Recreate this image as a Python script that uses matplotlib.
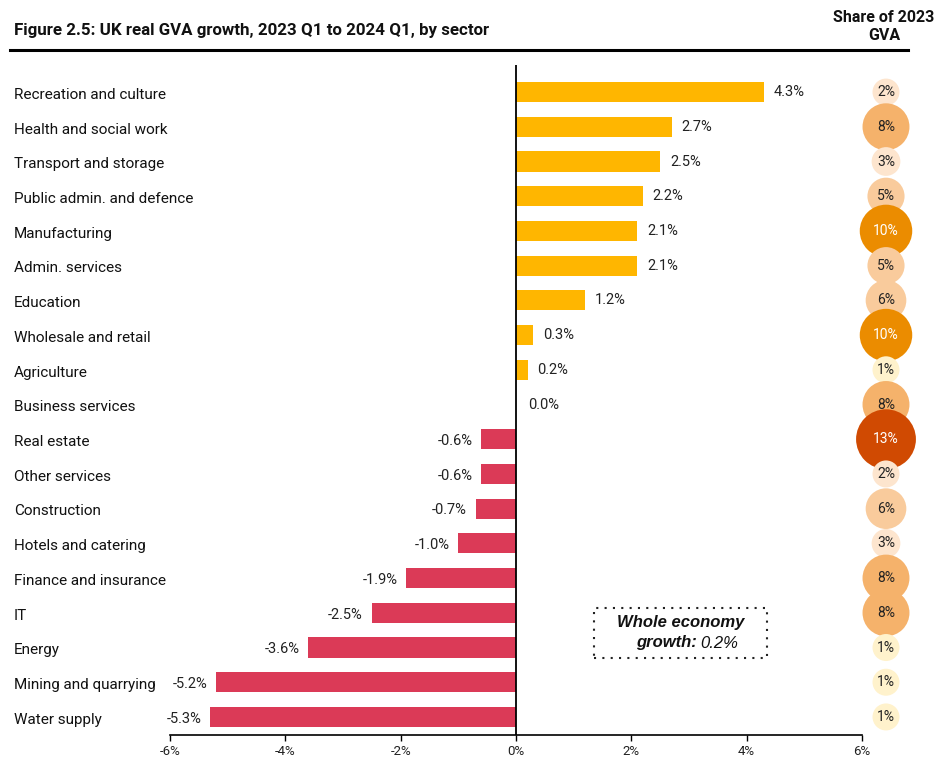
import matplotlib
matplotlib.use("Agg")
import matplotlib.pyplot as plt
from matplotlib.transforms import blended_transform_factory
from matplotlib.patches import FancyBboxPatch

plt.rcParams['font.family'] = ['Roboto', 'DejaVu Sans']

sectors = [
    "Recreation and culture", "Health and social work", "Transport and storage",
    "Public admin. and defence", "Manufacturing", "Admin. services", "Education",
    "Wholesale and retail", "Agriculture", "Business services", "Real estate",
    "Other services", "Construction", "Hotels and catering", "Finance and insurance",
    "IT", "Energy", "Mining and quarrying", "Water supply",
]
growth = [4.3, 2.7, 2.5, 2.2, 2.1, 2.1, 1.2, 0.3, 0.2, 0.0,
          -0.6, -0.6, -0.7, -1.0, -1.9, -2.5, -3.6, -5.2, -5.3]
share = [2, 8, 3, 5, 10, 5, 6, 10, 1, 8, 13, 2, 6, 3, 8, 8, 1, 1, 1]
xticks = [-6, -4, -2, 0, 2, 4, 6]
whole_economy = 0.2

POS_COLOR = "#FFB600"
NEG_COLOR = "#DB3A57"


def share_color(s):
    if s >= 13:
        return "#D04A02"
    if s >= 10:
        return "#EB8C00"
    if s >= 8:
        return "#F5B26B"
    if s >= 5:
        return "#F9CB9C"
    if s >= 2:
        return "#FDE5CE"
    return "#FFF2CC"


def bubble_radius_px(s):
    # area proportional to share, with a minimum size so labels fit
    return max(13.5, 8.3 * s ** 0.5)


fig = plt.figure(figsize=(9.39, 7.57), dpi=100)
W, H = 939, 757
ax = fig.add_axes([170 / W, 1 - 735 / H, (862 - 170) / W, (735 - 65) / H])
ppu = (862 - 170) / 12.0  # pixels per percentage point

y = list(range(len(sectors)))
colors = [POS_COLOR if g >= 0 else NEG_COLOR for g in growth]
ax.barh(y, growth, height=0.58, color=colors, zorder=2)
ax.set_xlim(-6, 6)
ax.set_ylim(18.52, -0.78)

# value labels
for yi, g in zip(y, growth):
    if g >= 0:
        ax.text(g + (10 if g > 0 else 12) / ppu, yi, f"{g:.1f}%", va="center",
                ha="left", fontsize=10.5, color="#222222")
    else:
        ax.text(g - 9 / ppu, yi + 0.05, f"{g:.1f}%", va="center", ha="right",
                fontsize=10.5, color="#222222")

# zero line
ax.axvline(0, color="black", lw=1.3, zorder=3)

for sp in ["top", "right", "left"]:
    ax.spines[sp].set_visible(False)
ax.spines["bottom"].set_linewidth(1.2)
ax.set_yticks([])
ax.set_xticks(xticks)
ax.set_xticklabels([f"{t}%" for t in xticks], fontsize=9.5, color="#222222")
ax.tick_params(axis="x", length=4, width=1.0, pad=3)

# sector names
lbl_tr = blended_transform_factory(fig.transFigure, ax.transData)
for yi, name in zip(y, sectors):
    ax.text(14 / W, yi + 0.08, name, transform=lbl_tr, ha="left", va="center",
            fontsize=11, color="#111111")

# share bubbles
sizes = [(2 * bubble_radius_px(s) * 0.72) ** 2 for s in share]
ax.scatter([886 / W] * len(share), y, s=sizes, c=[share_color(s) for s in share],
           transform=lbl_tr, clip_on=False, linewidths=0, zorder=4)
for yi, s in zip(y, share):
    ax.text(886 / W, yi, f"{s}%", transform=lbl_tr, ha="center", va="center",
            fontsize=10, color="white" if s >= 10 else "#222222", zorder=5,
            clip_on=False)

# whole economy box
bx0, bx1, by0, by1 = 594 / W, 767 / W, 1 - 658 / H, 1 - 608 / H
box = FancyBboxPatch((bx0, by0), bx1 - bx0, by1 - by0, boxstyle="square,pad=0",
                     transform=fig.transFigure, fill=False, ec="#222222",
                     lw=1.5, ls=(0, (1, 3)))
fig.patches.append(box)
cx = (bx0 + bx1) / 2
box_font = ['Liberation Sans', 'DejaVu Sans']
fig.text(cx, 1 - 623 / H, "Whole economy", ha="center", va="center",
         fontsize=12, fontweight="bold", fontstyle="italic", color="#111111",
         family=box_font)
fig.text(cx + 16 / W, 1 - 643 / H, "growth:", ha="right", va="center",
         fontsize=12, fontweight="bold", fontstyle="italic", color="#111111",
         family=box_font)
fig.text(cx + 20 / W, 1 - 643 / H, f"{whole_economy:.1f}%", ha="left", va="center",
         fontsize=12, fontstyle="italic", color="#111111", family=box_font)

# title, rule, bubble header
fig.text(14 / W, 1 - 31 / H,
         "Figure 2.5: UK real GVA growth, 2023 Q1 to 2024 Q1, by sector",
         ha="left", va="center", fontsize=12.2, fontweight="bold", color="#111111")
fig.add_artist(plt.Line2D([10 / W, 908 / W], [1 - 50 / H, 1 - 50 / H],
                          transform=fig.transFigure, color="black", lw=2.2))
fig.text(884 / W, 1 - 17 / H, "Share of 2023", ha="center", va="center",
         fontsize=11.5, fontweight="bold", color="#111111")
fig.text(884 / W, 1 - 35 / H, "GVA", ha="center", va="center",
         fontsize=11.5, fontweight="bold", color="#111111")

fig.savefig("out.png", dpi=100, facecolor="white")
